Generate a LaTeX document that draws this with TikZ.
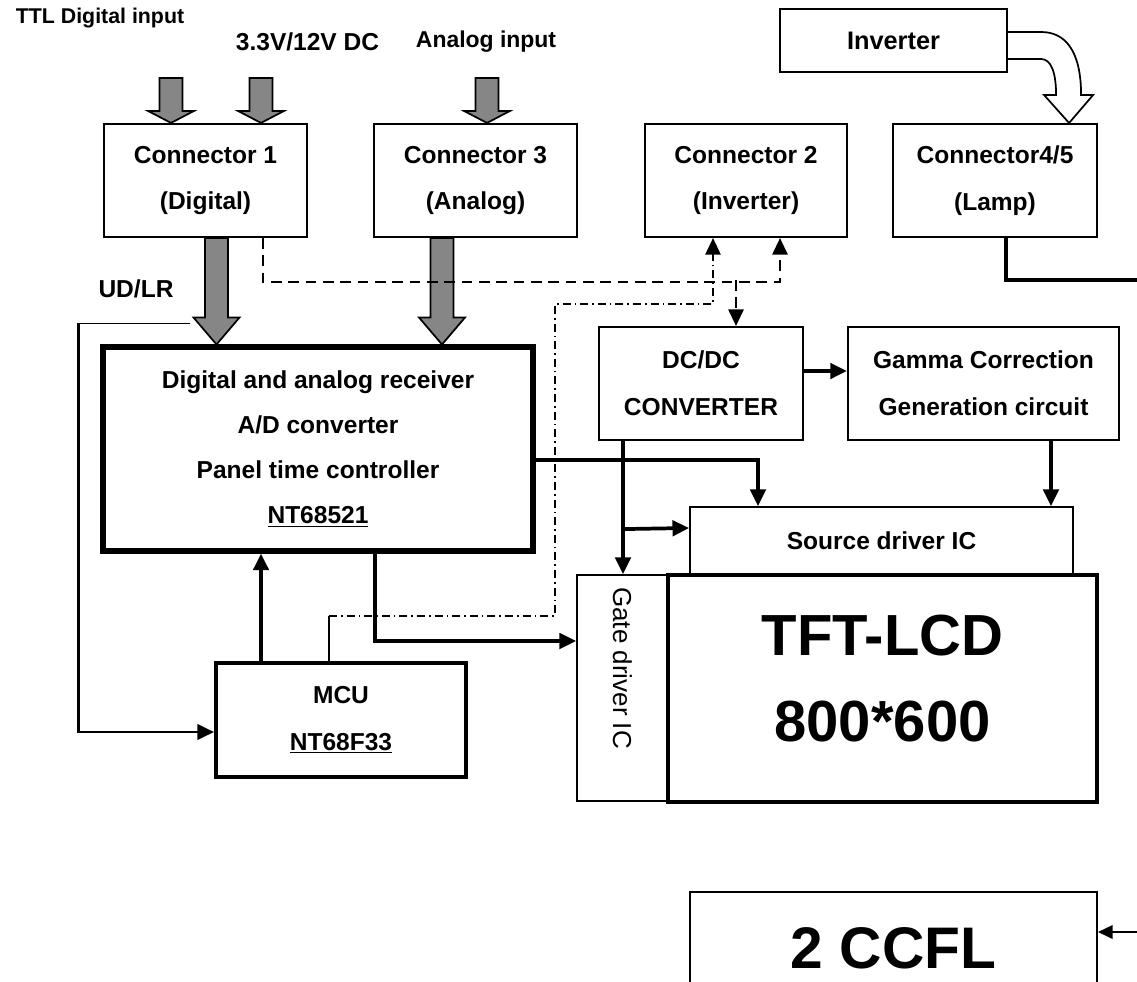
\documentclass[tikz,border=0pt]{standalone}
\usepackage{fontspec}
\setmainfont{Liberation Sans}
\usetikzlibrary{arrows.meta,calc}

\definecolor{fatgray}{RGB}{134,134,134}
\newcommand\lbl{\fontsize{18.4pt}{35pt}\selectfont\bfseries}
% wide grey bus arrow, from #2 down to #3, head length #1
\newcommand\fatarrow[3][20.25pt]{%
  \filldraw[fat] let \p1=(#2), \p2=(#3) in
    (\x2-8.6pt,\y1) -- (\x2+8.6pt,\y1) -- (\x2+8.6pt,\y2+#1)
    -- (\x2+17.25pt,\y2+#1) -- (\x2,\y2) -- (\x2-17.25pt,\y2+#1)
    -- (\x2-8.6pt,\y2+#1) -- cycle;}

\tikzset{
  box/.style={draw, line width=1.6pt, inner sep=0pt, align=center, font=\lbl},
  sz/.style 2 args={minimum width=#1*0.75pt, minimum height=#2*0.75pt},
  fat/.style={fill=fatgray, draw=black, line width=1.3pt, line join=miter},
  tip/.style={-{Triangle[length=12.5pt,width=11.5pt]}},
  conn/.style={line width=2.8pt, tip},
  dashline/.style={line width=1.6pt, dash pattern=on 8pt off 5pt, tip},
  dotdash/.style={line width=1.4pt, dash pattern=on 6pt off 3pt on 1.2pt off 3pt, tip},
  tag/.style={font=\bfseries\fontsize{18.4pt}{22pt}\selectfont, inner sep=0pt}
}

\begin{document}
\begin{tikzpicture}[x=0.75pt, y=-0.75pt]
  \path[use as bounding box, fill=white] (0,0) rectangle (1137,981);

  % blocks
  \node[box, sz={203}{113}] (conn1) at (205.5,180.5) {Connector 1\\(Digital)};
  \node[box, sz={203}{113}] (conn3) at (475.5,180.5) {Connector 3\\(Analog)};
  \node[box, sz={202}{113}] (conn2) at (746,180.5) {Connector 2\\(Inverter)};
  \node[box, sz={204}{113}] (conn45) at (995,180.5) {Connector4/5\\(Lamp)};
  \node[box, sz={227}{63}, font=\bfseries\fontsize{19pt}{22pt}\selectfont] (inverter) at (893.5,40.5) {Inverter};
  \node[box, sz={430}{204}, line width=3.8pt, font=\bfseries\fontsize{18.4pt}{33.75pt}\selectfont]
    (main) at (318,449) {Digital and analog receiver\\A/D converter\\Panel time controller\\\underline{NT68521}};
  \node[box, sz={204}{113}] (dcdc) at (701,383.5) {DC/DC\\CONVERTER};
  \node[box, sz={271}{113}] (gamma) at (983.5,383.5) {Gamma Correction\\Generation circuit};
  \node[box, sz={383}{68}, line width=1.3pt] (source) at (881.5,541) {Source driver IC};
  \node[box, sz={91}{226}, line width=1.3pt] (gate) at (622.5,688) {};
  \node[rotate=-90, inner sep=0pt, font=\fontsize{19.5pt}{22pt}\selectfont]
    (gatetxt) at ($(gate.center)+(0,-20)$) {Gate driver IC};
  \node[box, sz={429}{227}, line width=3.2pt] (tft) at (882.5,688.5) {};
  \node[inner sep=0pt, align=center, font=\bfseries\fontsize{43.5pt}{65pt}\selectfont]
    (tfttxt) at ($(tft.center)+(0,-10)$) {TFT-LCD\\800*600};
  \node[box, sz={250}{114}, line width=3pt] (mcu) at (341,720) {MCU\\\underline{NT68F33}};
  \node[box, sz={407}{112}, line width=1.4pt, font=\bfseries\fontsize{44pt}{50pt}\selectfont]
    (ccfl) at (893.5,948) {2 CCFL};

  % input labels
  \node[tag, font=\bfseries\fontsize{16pt}{18pt}\selectfont] (ttltxt) at (100,18) {TTL Digital input};
  \node[tag] (dctxt) at (307.5,42) {3.3V/12V DC};
  \node[tag, font=\bfseries\fontsize{17.2pt}{20pt}\selectfont] (antxt) at (486,42) {Analog input};
  \node[tag] (udlr) at (136,289) {UD/LR};

  % grey bus arrows
  \coordinate (ttlin) at (171,78);
  \coordinate (dcin) at (261,78);
  \coordinate (anin) at (487,78);
  \coordinate (c1out) at ($(conn1.south)+(11,0)$);
  \coordinate (c3out) at ($(conn3.south)+(-33.5,0)$);
  \fatarrow[9pt]{ttlin}{ttlin |- conn1.north}
  \fatarrow[9pt]{dcin}{dcin |- conn1.north}
  \fatarrow[9pt]{anin}{anin |- conn3.north}
  \fatarrow{c1out}{c1out |- main.north}
  \fatarrow{c3out}{c3out |- main.north}

  % hollow arrow inverter -> lamp connector
  \begin{scope}[shift={(inverter.east)}]
    \filldraw[fill=white, line width=1.3pt] (0,-8.5) -- (33,-8.5)
      .. controls (57,-8.5) and (73,10) .. (73,54.5) -- (85,54.5) -- (61,82.5)
      -- (36,54.5) -- (48,54.5) .. controls (48,32) and (43,18.5) .. (33,18.5) -- (0,18.5);
  \end{scope}

  % dashed control lines
  \coordinate (c1dash) at ($(conn1.south east)+(-45,0)$);
  \coordinate (c2dash) at ($(conn2.south)+(34,0)$);
  \coordinate (dcdash) at ($(dcdc.north)+(35,0)$);
  \draw[dashline] (c1dash) |- ($(c2dash)+(0,44)$) -- (c2dash);
  \draw[dashline] ($(dcdash)+(0,-46)$) -- (dcdash);

  % dash-dot line mcu -> connector 2
  \coordinate (mcudd) at ($(mcu.north)+(-12,0)$);
  \coordinate (c2dd) at ($(conn2.south)+(-33,0)$);
  \draw[line width=1pt] (mcudd) -- ++(0,-45) coordinate (ddstart);
  \draw[dotdash] (ddstart) -| ($(c2dd)+(-158,66)$) -| (c2dd);

  % signal lines
  \coordinate (mcuup) at ($(mcu.north)+(-80,0)$);
  \draw[conn] (mcuup) -- (mcuup |- main.south);
  \draw[conn] ($(main.south)+(57,0)$) |- ($(gate.west)+(0,-47)$);
  \draw[conn] ($(main.east)+(0,11)$) -| ($(source.north)+(-123.5,0)$);
  \draw[conn] ($(dcdc.east)+(0,-12.5)$) -- ($(gamma.west)+(0,-12.5)$);
  \coordinate (dcdown) at ($(dcdc.south)+(-78,0)$);
  \draw[conn] (dcdown) -- (dcdown |- gate.north);
  \draw[conn] ($(dcdown)+(0,88)$) -- ($(source.west)+(0,-13)$);
  \coordinate (gdown) at ($(gamma.south)+(67.5,0)$);
  \draw[conn] (gdown) -- (gdown |- source.north);

  % UD/LR line
  \coordinate (udlrend) at ($(main.north west)+(90,-21)$);
  \draw[line width=1pt] (udlrend) -- ++(-112,0) coordinate (udlrturn);
  \draw[conn, line width=2.2pt] (udlrturn) |- ($(mcu.west)+(0,12)$);

  % lamp wiring
  \coordinate (lampout) at (1137,280);
  \coordinate (lampin) at (1137,932);
  \draw[line width=2.8pt] ($(conn45.south)+(11,0)$) |- (lampout);
  \draw[line width=1.8pt, -{Triangle[length=11pt,width=10pt]}] (lampin) -- (lampin -| ccfl.east);
\end{tikzpicture}
\end{document}
